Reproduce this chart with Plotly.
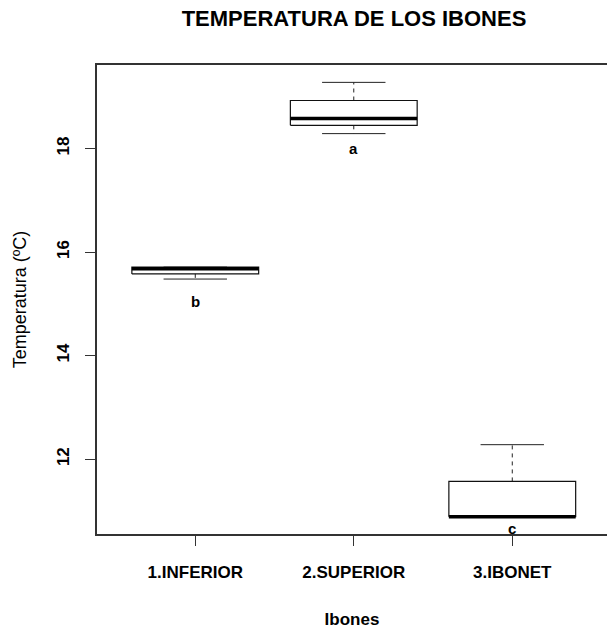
import plotly.graph_objects as go

# ---- data ----
categories = ["1.INFERIOR", "2.SUPERIOR", "3.IBONET"]
whisker_low = [15.48, 18.29, 10.89]
q1 = [15.58, 18.45, 10.89]
median = [15.68, 18.58, 10.89]
q3 = [15.71, 18.93, 11.57]
whisker_high = [15.71, 19.28, 12.28]
letters = ["b", "a", "c"]
letter_y = [15.04, 18.00, 10.66]
y_ticks = [12, 14, 16, 18]

FONT = "Liberation Sans, Arial, sans-serif"
BOX_HALF = 0.4     # R boxwex 0.8
CAP_HALF = 0.2     # R staplewex 0.5

pos = [i + 1 for i in range(len(categories))]

box_x, box_y = [], []
med_x, med_y = [], []
wh_x, wh_y = [], []
cap_x, cap_y = [], []
for p, lo, a, m, b, hi in zip(pos, whisker_low, q1, median, q3, whisker_high):
    box_x += [p - BOX_HALF, p + BOX_HALF, p + BOX_HALF, p - BOX_HALF, p - BOX_HALF, None]
    box_y += [a, a, b, b, a, None]
    med_x += [p - BOX_HALF, p + BOX_HALF, None]
    med_y += [m, m, None]
    wh_x += [p, p, None, p, p, None]
    wh_y += [b, hi, None, a, lo, None]
    cap_x += [p - CAP_HALF, p + CAP_HALF, None, p - CAP_HALF, p + CAP_HALF, None]
    cap_y += [hi, hi, None, lo, lo, None]

fig = go.Figure()
fig.add_trace(go.Scatter(x=wh_x, y=wh_y, mode="lines",
                         line=dict(color="#222", width=1, dash="4px,4px"),
                         hoverinfo="skip", showlegend=False))
fig.add_trace(go.Scatter(x=cap_x, y=cap_y, mode="lines",
                         line=dict(color="#222", width=1),
                         hoverinfo="skip", showlegend=False))
fig.add_trace(go.Scatter(x=box_x, y=box_y, mode="lines",
                         line=dict(color="#111", width=1.2),
                         hoverinfo="skip", showlegend=False))
fig.add_trace(go.Scatter(x=med_x, y=med_y, mode="lines",
                         line=dict(color="black", width=3.5),
                         hoverinfo="skip", showlegend=False))

for p, t, ly in zip(pos, letters, letter_y):
    fig.add_annotation(x=p, y=ly, text="<b>%s</b>" % t, showarrow=False,
                       font=dict(family=FONT, size=15, color="black"),
                       xanchor="center", yanchor="middle")

dmin = min(whisker_low)
dmax = max(whisker_high)
ext = 0.04 * (dmax - dmin)
n = len(categories)
xext = 0.04 * n

fig.update_layout(
    width=607, height=632,
    margin=dict(l=97, r=0, t=65, b=98),
    paper_bgcolor="white", plot_bgcolor="white",
    font=dict(family=FONT, color="black"),
    title=dict(text="<b>TEMPERATURA DE LOS IBONES</b>",
               x=354 / 607, xref="container", xanchor="center",
               y=1 - 18 / 632, yref="container", yanchor="middle",
               font=dict(family=FONT, size=22, color="black")),
    xaxis=dict(range=[0.5 - xext, 0.5 - xext + 510 / 158.5],
               tickvals=pos, ticktext=categories,
               tickfont=dict(family=FONT, size=17, color="black", weight="bold"),
               ticks="outside", ticklen=10, tickcolor="#333", tickwidth=1,
               ticklabelstandoff=12,
               showline=True, mirror=True, linecolor="#333", linewidth=1.5,
               showgrid=False, zeroline=False, automargin=False,
               title=dict(text="<b>Ibones</b>", standoff=32,
                          font=dict(family=FONT, size=17, color="black"))),
    yaxis=dict(range=[dmin - ext, dmax + ext],
               tickvals=y_ticks, ticktext=[str(v) for v in y_ticks],
               tickangle=-90,
               tickfont=dict(family=FONT, size=17, color="black", weight="bold"),
               ticks="outside", ticklen=10, tickcolor="#333", tickwidth=1,
               ticklabelstandoff=9,
               showline=True, mirror=False, linecolor="#333", linewidth=1.5,
               showgrid=False, zeroline=False, automargin=False,
               title=dict(text="Temperatura (ºC)", standoff=23,
                          font=dict(family=FONT, size=18, color="black"))),
)

fig.write_html("out.html",
               config={"displayModeBar": False},
               post_script="document.body.style.margin='0';"
                           "document.body.style.overflow='hidden';")
